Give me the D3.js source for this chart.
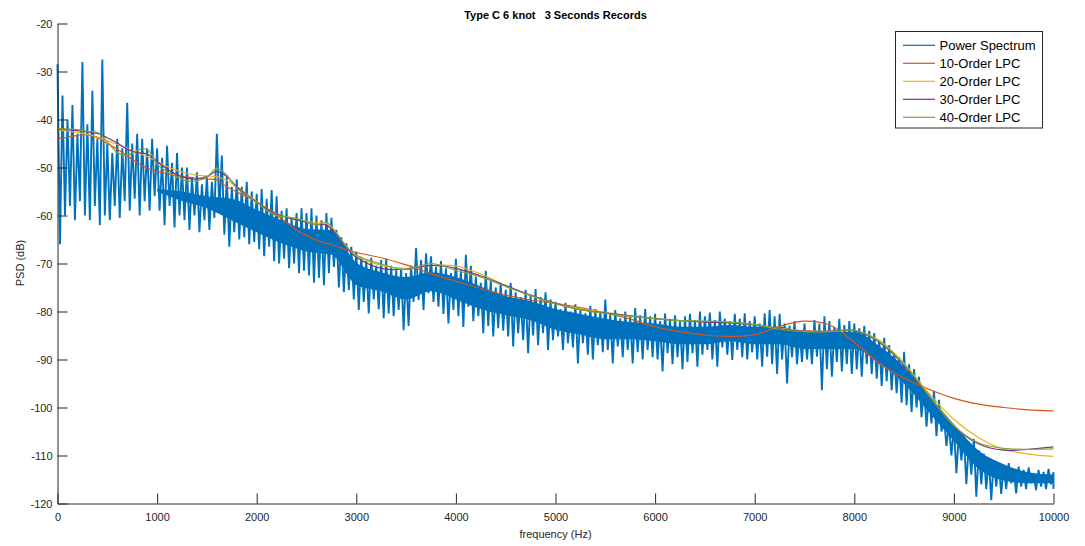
<!DOCTYPE html>
<html>
<head>
<meta charset="utf-8">
<script src="https://d3js.org/d3.v7.min.js"></script>
<style>
 body { margin: 0; background: #fff; }
 svg { display: block; font-family: "Liberation Sans", Arial, Helvetica, sans-serif; }
 .axis text { font-size: 11px; fill: #262626; }
 .axis path, .axis line { stroke: #262626; }
</style>
</head>
<body>
<svg id="chart" width="1085" height="546"></svg>
<script>
// spectrum, read per 50 Hz bin: a high and a low value (dB)
const specStep = 50;
const specHi = [
 -28.5, -35, -40, -37, -43, -28, -41, -34, -44, -27.5,
 -45, -47, -44, -46, -36.5, -45, -43, -44, -46, -44,
 -46, -48, -45.5, -49, -47, -50, -50, -52, -51, -53.5,
 -52, -53, -43, -47.5, -52, -54, -52.5, -54, -53, -55,
 -55.5, -54.5, -56.5, -54.7, -56, -59, -58.5, -60.5, -59.5, -58.5,
 -59.5, -58.5, -60, -61, -59.5, -60.5, -63, -64.5, -65.8, -66.5,
 -67.5, -68.6, -69.5, -68.8, -70.5, -69.3, -69, -70.5, -71.4, -71,
 -72, -70.5, -66.8, -69.3, -67.9, -68.5, -70.7, -69.5, -71, -72,
 -69, -71.4, -68.2, -70.5, -72.7, -74, -71.5, -73.5, -75, -74,
 -75.5, -74, -76, -77, -75.5, -76.5, -75.3, -77, -76, -77.5,
 -78, -79.5, -78.2, -80, -78.5, -79.7, -80.4, -78.8, -79.5, -80,
 -77.5, -80.5, -79.7, -81.4, -80, -81, -79.3, -80.8, -79.5, -81,
 -80.5, -82, -80.4, -81.5, -80.8, -82, -81, -80.5, -81.8, -80,
 -81, -80.2, -81.8, -80, -81.5, -82, -80.5, -81.5, -80.4, -82,
 -81, -82.5, -80.4, -79.7, -81, -80.5, -82.5, -83, -82, -83.9,
 -82.5, -83.9, -81.8, -82.5, -81, -82, -83.2, -81.5, -82.8, -82,
 -82.5, -83.5, -83, -84, -84.5, -86, -85.5, -87, -88.7, -89.5,
 -88.4, -91, -92, -93.6, -95.7, -97, -96.5, -98.4, -102, -103.5,
 -104, -105.4, -106, -107.5, -106.5, -108.9, -109.6, -110.5, -111, -111.6,
 -112, -111.6, -113, -112.3, -113, -112.5, -113.7, -113, -113.4, -112.8, -113.5
];
const specLo = [
 -66, -60, -58, -61, -57, -60, -61, -58, -62, -60,
 -61, -58, -60.5, -57, -59, -56.5, -60, -57, -59, -56,
 -59, -62, -58, -62.5, -60, -61, -63, -60, -63.5, -61,
 -63, -60.5, -59, -64, -66.5, -63.5, -65, -64.5, -66, -65.5,
 -67, -68.5, -66.5, -69.5, -70, -69, -71, -70, -72, -71.5,
 -72.5, -74, -73, -74.5, -72, -70.7, -75, -76, -75.5, -77.5,
 -79.7, -78, -80.4, -77.5, -79.5, -81.4, -80.4, -81, -79.7, -83.9,
 -83, -78, -77.6, -79.7, -76.2, -78, -79, -80.5, -82.5, -79.7,
 -81, -83.2, -79, -82, -81, -84.5, -83, -85.2, -83.5, -84,
 -85.2, -87.3, -84.5, -86, -88.7, -85, -87, -84.5, -88, -86,
 -85.2, -88, -86.6, -87.5, -90.8, -86.6, -89, -90, -87, -88.5,
 -88, -90.8, -87.3, -89.5, -88, -90.8, -88.5, -90, -88, -89.5,
 -90, -92.5, -88.7, -91, -89.5, -92, -90.5, -88.7, -91.5, -89,
 -88, -90, -91.5, -87.5, -89, -90.1, -88, -89.5, -90, -88.5,
 -90, -91.5, -89.4, -91, -93, -90, -95, -89.5, -91, -90.5,
 -90, -91, -89.4, -96.4, -92, -93.6, -90.5, -92.5, -91, -93,
 -92, -93.6, -91, -93, -94, -95.5, -94.5, -96.4, -97, -99,
 -99.5, -101, -100, -102, -104, -103.3, -106, -105, -108, -110,
 -113.7, -111, -116, -114, -118.6, -116, -117, -119.3, -116.5, -118,
 -117, -115.8, -117.9, -116.5, -117, -115.8, -117.2, -116.5, -117, -116, -117
];
// dense core of the spectrum band, read every 250 Hz from 1000 Hz (dB)
const coreFreq = [1000, 1250, 1500, 1750, 2000, 2250,
 2500, 2750, 3000, 3250, 3500, 3750, 4000, 4250, 4500, 4750,
 5000, 5250, 5500, 5750, 6000, 6250, 6500, 6750, 7000, 7250,
 7500, 7750, 8000, 8250, 8500, 8750, 9000, 9250, 9500, 9750, 10000];
const coreHi = [-54.5, -55, -56, -56.5, -58.8, -61,
 -62.8, -63, -69.8, -71.8, -72.8, -71.8, -72.8, -74.8, -76.8, -77.8,
 -79.5, -80.5, -81.5, -82.2, -82.5, -83.2, -83.2, -82.8, -83.2, -83.2,
 -84.2, -84.2, -84.2, -87.2, -91.5, -97.5, -103.5, -109, -111.8, -113.5, -114];
const coreLo = [-55, -57, -58.5, -61, -63.5, -65.8,
 -67.5, -68.2, -74.5, -75.8, -77.5, -75.8, -77.5, -79.5, -80.8, -81.8,
 -83.8, -84.8, -85.8, -85.8, -86.2, -86.8, -86.8, -86.2, -86.8, -86.8,
 -87.8, -87.8, -87.8, -90.8, -95, -101, -107, -112.8, -115.2, -115.8, -115.8];

// LPC envelopes (dB) on a shared frequency grid (Hz)
const lpcFreq = [0, 100, 200, 300, 400, 500, 600, 700, 800, 900,
 1000, 1100, 1200, 1300, 1400, 1500, 1600, 1700, 1800, 1900,
 2000, 2100, 2200, 2300, 2400, 2500, 2600, 2700, 2800, 2900, 3000,
 3250, 3500, 3750, 4000, 4250, 4500, 4750, 5000, 5250, 5500, 5750,
 6000, 6250, 6500, 6750, 7000, 7250, 7500, 7750, 8000, 8250, 8500,
 8750, 9000, 9250, 9500, 9750, 10000];
const lpc10 = [-44.0, -43.7, -43.3, -43.2, -43.8, -45.0, -46.2, -47.6, -49.0, -50.1,
 -50.8, -51.3, -51.7, -52.0, -52.2, -52.4, -52.6, -54.0, -55.1, -56.1,
 -57.2, -58.7, -60.0, -61.4, -63.0, -64.2, -65.1, -65.8, -66.4, -67.1, -67.7,
 -68.8, -70.3, -72.1, -73.7, -75.2, -76.6, -77.6, -78.3, -79.2, -80.3, -81.6,
 -83.2, -84.2, -84.9, -85.2, -84.8, -83.1, -82.0, -82.8, -86.4, -90.8, -93.9,
 -96.2, -98.1, -99.3, -100.0, -100.5, -100.7];
const lpc20 = [-42.2, -42.4, -42.7, -43.1, -43.6, -44.4, -45.2, -46.0, -46.9, -47.7,
 -48.8, -49.8, -50.6, -51.2, -51.6, -51.8, -51.9, -52.7, -54.0, -55.5,
 -57.1, -58.5, -59.6, -60.3, -60.8, -61.2, -61.5, -61.7, -63.6, -66.5, -68.4,
 -70.4, -71.0, -70.4, -70.5, -72.2, -74.6, -76.7, -78.3, -79.4, -80.2, -80.9,
 -81.5, -81.9, -82.1, -82.3, -82.8, -83.5, -84.0, -84.1, -84.0, -86.0, -90.8,
 -97.1, -102.5, -106.3, -108.7, -109.7, -110.2];
const lpc30 = [-42.0, -42.1, -42.3, -42.6, -42.9, -43.8, -44.9, -46.2, -46.9, -47.2,
 -48.8, -50.3, -51.5, -52.2, -52.4, -51.9, -50.8, -51.9, -54.0, -55.7,
 -57.2, -58.6, -59.7, -60.4, -60.9, -61.4, -61.9, -62.0, -64.0, -66.8, -68.7,
 -71.0, -71.2, -70.4, -71.0, -72.6, -74.6, -76.6, -78.3, -79.6, -80.3, -80.9,
 -81.5, -81.9, -82.2, -82.4, -82.8, -83.6, -84.1, -84.1, -84.0, -86.4, -91.2,
 -97.6, -103.9, -107.6, -108.9, -108.7, -108.2];
const lpc40 = [-41.9, -42.0, -42.1, -42.5, -42.7, -44.6, -46.9, -47.5, -46.4, -46.2,
 -49.3, -50.9, -52.0, -52.8, -52.8, -52.0, -50.2, -51.6, -54.3, -55.9,
 -57.3, -58.9, -60.0, -60.3, -60.6, -61.3, -62.0, -61.4, -63.6, -66.4, -68.3,
 -70.1, -71.3, -70.0, -71.4, -72.8, -74.8, -76.7, -78.4, -79.6, -80.4, -81.0,
 -81.5, -81.9, -82.0, -82.2, -82.7, -83.7, -84.2, -84.2, -83.9, -86.2, -91.0,
 -97.5, -103.8, -107.4, -108.5, -108.7, -108.6];

const seriesNames = ["Power Spectrum", "10-Order LPC", "20-Order LPC", "30-Order LPC", "40-Order LPC"];
const seriesColors = ["#0072BD", "#D95319", "#EDB120", "#7E2F8E", "#77AC30"];
const xTicks = [0, 1000, 2000, 3000, 4000, 5000, 6000, 7000, 8000, 9000, 10000];
const yTicks = [-120, -110, -100, -90, -80, -70, -60, -50, -40, -30, -20];

const svg = d3.select("#chart");
const x = d3.scaleLinear().domain([0, 10000]).range([57.5, 1053.5]);
const y = d3.scaleLinear().domain([-120, -20]).range([503.5, 23.5]);

// spectrum: filled core, then a zigzag between the high and low of each bin
const core = d3.area().x((d, i) => x(coreFreq[i]))
   .y0((d, i) => y(coreLo[i])).y1((d, i) => y(coreHi[i]))
   .curve(d3.curveMonotoneX);
svg.append("path")
   .attr("d", core(coreFreq))
   .attr("fill", seriesColors[0]);

let specPts = [];
specHi.forEach((h, i) => {
  let f = i * specStep;
  specPts.push([f, h]);
  specPts.push([Math.min(f + specStep / 2, 10000), specLo[i]]);
});

const line = d3.line().x(d => x(d[0])).y(d => y(d[1]));
const smooth = d3.line().x(d => x(d[0])).y(d => y(d[1])).curve(d3.curveCatmullRom);

svg.append("path")
   .attr("d", line(specPts))
   .attr("fill", "none")
   .attr("stroke", seriesColors[0])
   .attr("stroke-width", 1.9)
   .attr("stroke-linejoin", "bevel");

[lpc10, lpc20, lpc30, lpc40].forEach((vals, k) => {
  svg.append("path")
     .attr("d", smooth(lpcFreq.map((f, i) => [f, vals[i]])))
     .attr("fill", "none")
     .attr("stroke", seriesColors[k + 1])
     .attr("stroke-width", 1.2);
});

// axes
svg.append("g").attr("class", "axis")
   .attr("transform", "translate(0,503.5)")
   .call(d3.axisBottom(x).tickValues(xTicks).tickFormat(d3.format("d"))
         .tickSizeInner(-10).tickSizeOuter(0).tickPadding(9.5));
svg.append("g").attr("class", "axis")
   .attr("transform", "translate(57.5,0)")
   .call(d3.axisLeft(y).tickValues(yTicks).tickFormat(d3.format("d"))
         .tickSizeInner(-10).tickSizeOuter(0).tickPadding(5));
svg.selectAll(".axis text").attr("font-family", null);
svg.selectAll(".axis .tick text").each(function(d) {
  d3.select(this).text(String(d).replace("\u2212", "-"));
});

// labels
svg.append("text").attr("x", 555.5).attr("y", 19)
   .attr("text-anchor", "middle").attr("font-size", 11).attr("font-weight", "bold")
   .attr("fill", "#000").style("white-space", "pre")
   .text("Type C 6 knot   3 Seconds Records");
svg.append("text").attr("x", 555.5).attr("y", 538)
   .attr("text-anchor", "middle").attr("font-size", 11).attr("fill", "#262626")
   .text("frequency (Hz)");
svg.append("text").attr("transform", "translate(24,263) rotate(-90)")
   .attr("text-anchor", "middle").attr("font-size", 11).attr("fill", "#262626")
   .text("PSD (dB)");

// legend
const lg = svg.append("g");
lg.append("rect").attr("x", 895.5).attr("y", 31.5).attr("width", 147).attr("height", 96.5)
  .attr("fill", "#fff").attr("stroke", "#262626").attr("stroke-width", 1);
seriesNames.forEach((name, i) => {
  let ry = 45.3 + i * 18;
  lg.append("line").attr("x1", 903).attr("x2", 935).attr("y1", ry).attr("y2", ry)
    .attr("stroke", seriesColors[i]).attr("stroke-width", 1.2);
  lg.append("text").attr("x", 939.5).attr("y", ry).attr("dy", "0.35em")
    .attr("font-size", 13).attr("fill", "#000").text(name);
});
</script>
</body>
</html>
